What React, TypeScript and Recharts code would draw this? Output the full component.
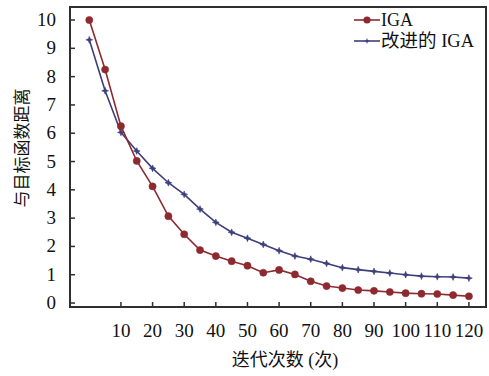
import React from 'react';
import { LineChart, Line, XAxis, YAxis, ReferenceArea } from 'recharts';

const iterations = [0, 5, 10, 15, 20, 25, 30, 35, 40, 45, 50, 55, 60, 65, 70, 75, 80, 85, 90, 95, 100, 105, 110, 115, 120];
const igaValues = [10.0, 8.25, 6.25, 5.02, 4.12, 3.07, 2.43, 1.87, 1.66, 1.48, 1.32, 1.07, 1.17, 1.01, 0.77, 0.6, 0.53, 0.46, 0.43, 0.39, 0.35, 0.33, 0.32, 0.28, 0.24];
const improvedValues = [9.3, 7.5, 6.03, 5.37, 4.76, 4.25, 3.84, 3.32, 2.85, 2.5, 2.29, 2.07, 1.85, 1.66, 1.55, 1.4, 1.25, 1.18, 1.12, 1.06, 1.0, 0.95, 0.93, 0.92, 0.88];
const xTicks = [10, 20, 30, 40, 50, 60, 70, 80, 90, 100, 110, 120];
const yTicks = [0, 1, 2, 3, 4, 5, 6, 7, 8, 9, 10];
const seriesNames = ['IGA', '改进的 IGA'];

const X_DOMAIN: [number, number] = [-6.1, 125.4];
const Y_DOMAIN: [number, number] = [-0.14, 10.46];

const data = iterations.map((x, i) => ({ x, iga: igaValues[i], improved: improvedValues[i] }));

const RED = '#8c2a30';
const BLUE = '#3d3f7c';
const AXIS = '#2f2f2f';
const SERIF = '"Liberation Serif", "Times New Roman", serif';
const CJK = '"Liberation Serif", "Noto Sans CJK SC", serif';

const RedDot = (props: any) => {
  const { cx, cy } = props;
  if (cx == null || cy == null) return null;
  return <circle cx={cx} cy={cy} r={3.6} fill={RED} stroke={RED} strokeWidth={0.5} />;
};

const starPath = (cx: number, cy: number, r: number) => {
  const pts: string[] = [];
  for (let i = 0; i < 8; i++) {
    const a = (Math.PI / 4) * i - Math.PI / 2;
    const rr = i % 2 === 0 ? r : r * 0.4;
    pts.push(`${cx + rr * Math.cos(a)},${cy + rr * Math.sin(a)}`);
  }
  return pts.join(' ');
};

const BlueDot = (props: any) => {
  const { cx, cy } = props;
  if (cx == null || cy == null) return null;
  return <polygon points={starPath(cx, cy, 3.4)} fill={BLUE} stroke={BLUE} strokeWidth={0.6} />;
};

const LegendBox = () => (
  <svg width={135} height={44} style={{ position: 'absolute', left: 354, top: 8 }}>
    <line x1={0} y1={12} x2={26} y2={12} stroke={RED} strokeWidth={1.6} />
    <circle cx={13} cy={12} r={3.6} fill={RED} />
    <text x={27} y={18} fontFamily={SERIF} fontSize={18} fill="#111">{seriesNames[0]}</text>
    <line x1={0} y1={33} x2={26} y2={33} stroke={BLUE} strokeWidth={1.6} />
    <polygon points={starPath(13, 33, 3)} fill={BLUE} />
    <text x={27} y={39} fontFamily={CJK} fontSize={18.5} fill="#111">{seriesNames[1]}</text>
  </svg>
);

const XTick = (props: any) => {
  const { x, payload } = props;
  return (
    <text x={x} y={337} textAnchor="middle" fontFamily={SERIF} fontSize={19} fill="#111">
      {payload.value}
    </text>
  );
};

const YTick = (props: any) => {
  const { y, payload } = props;
  return (
    <text x={56} y={y} dy={6} textAnchor="end" fontFamily={SERIF} fontSize={19} fill="#111">
      {payload.value}
    </text>
  );
};

const XLabel = (props: any) => {
  const vb = props.viewBox || {};
  return (
    <text x={vb.x + vb.width / 2 + 7} y={366} textAnchor="middle" fontFamily={CJK} fontSize={18} fill="#111">
      迭代次数 (次)
    </text>
  );
};

const YLabel = (props: any) => {
  const vb = props.viewBox || {};
  const cy = vb.y + vb.height / 2 - 9;
  return (
    <text x={22} y={cy} transform={`rotate(-90, 22, ${cy})`} textAnchor="middle" dominantBaseline="central" fontFamily={CJK} fontSize={17} fill="#111">
      与目标函数距离
    </text>
  );
};

export default function App() {
  return (
    <div style={{ position: 'absolute', left: 0, top: 0, width: 489, height: 376, background: '#fff' }}>
      <LineChart width={489} height={376} data={data} margin={{ top: 7, right: 3, bottom: 0, left: 0 }}>
        <XAxis
          dataKey="x"
          type="number"
          domain={X_DOMAIN}
          allowDataOverflow
          ticks={xTicks}
          interval={0}
          height={69}
          axisLine={{ stroke: AXIS, strokeWidth: 2 }}
          tickLine={{ stroke: AXIS, strokeWidth: 1.5 }}
          tickSize={-5}
          tick={<XTick />}
          label={<XLabel />}
        />
        <YAxis
          type="number"
          domain={Y_DOMAIN}
          allowDataOverflow
          ticks={yTicks}
          interval={0}
          width={70}
          axisLine={{ stroke: AXIS, strokeWidth: 2 }}
          tickLine={{ stroke: AXIS, strokeWidth: 1.5 }}
          tickSize={-5}
          tick={<YTick />}
          label={<YLabel />}
        />
        <ReferenceArea
          x1={X_DOMAIN[0]}
          x2={X_DOMAIN[1]}
          y1={Y_DOMAIN[0]}
          y2={Y_DOMAIN[1]}
          fill="none"
          fillOpacity={0}
          stroke={AXIS}
          strokeWidth={2}
          ifOverflow="visible"
        />
        <Line
          type="linear"
          dataKey="improved"
          name={seriesNames[1]}
          stroke={BLUE}
          strokeWidth={1.6}
          dot={<BlueDot />}
          activeDot={false}
          isAnimationActive={false}
        />
        <Line
          type="linear"
          dataKey="iga"
          name={seriesNames[0]}
          stroke={RED}
          strokeWidth={1.6}
          dot={<RedDot />}
          activeDot={false}
          isAnimationActive={false}
        />
      </LineChart>
      <LegendBox />
    </div>
  );
}
